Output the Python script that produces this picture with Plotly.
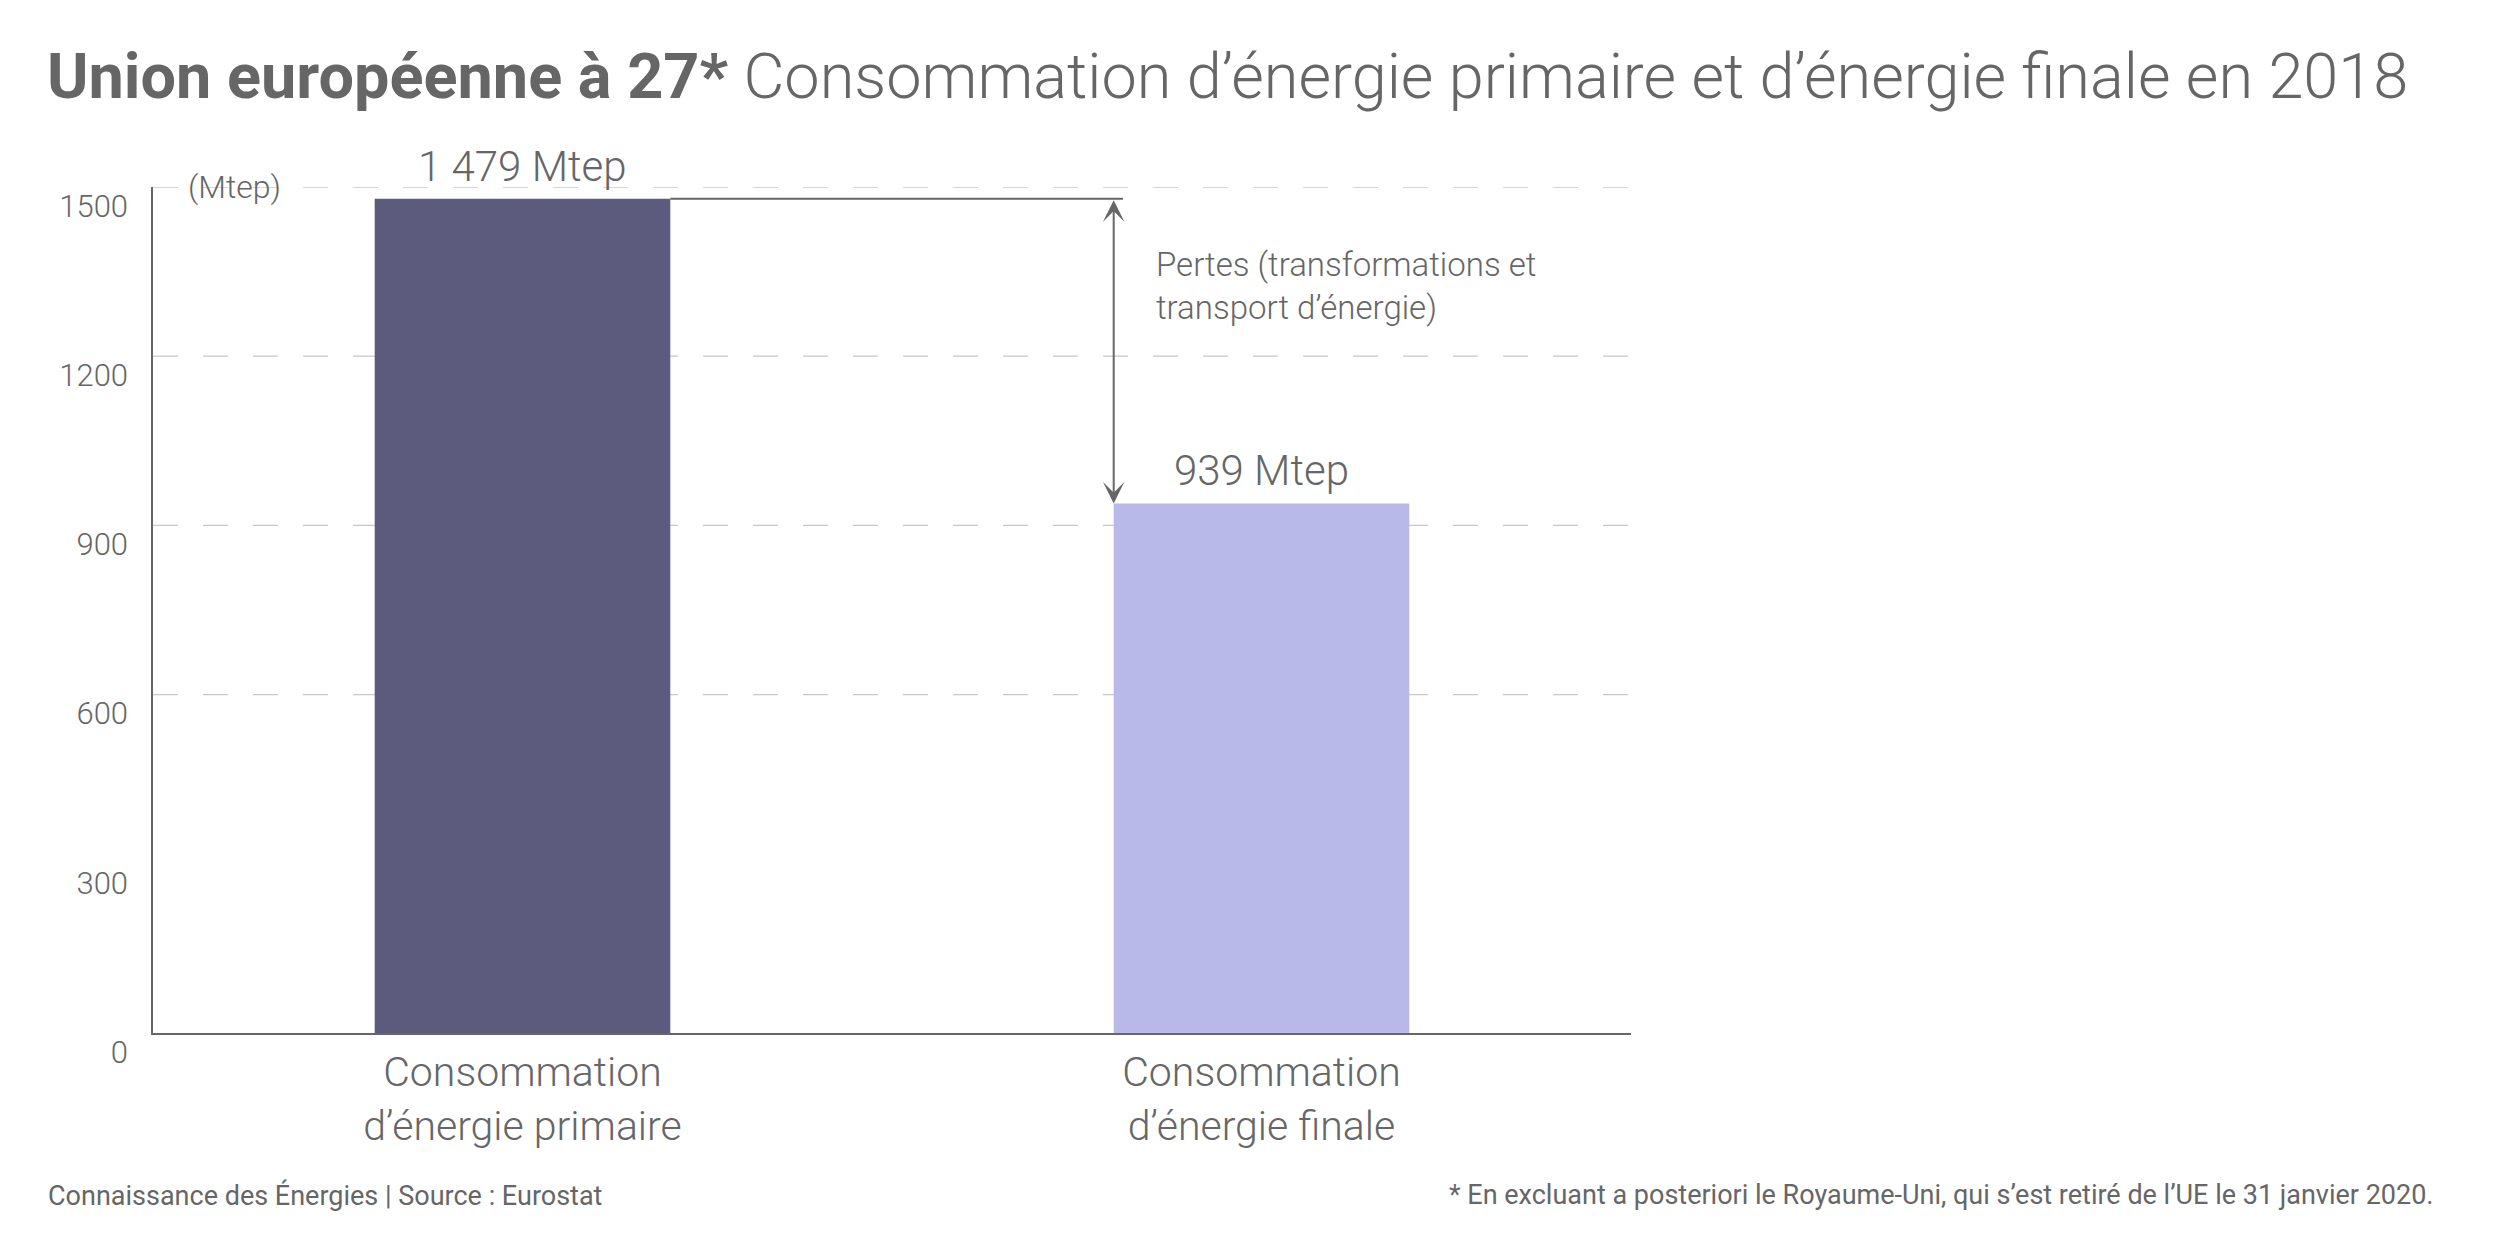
import plotly.graph_objects as go

# Data
categories = ["Consommation<br>d’énergie primaire", "Consommation<br>d’énergie finale"]
values = [1479, 939]
value_labels = ["1 479 Mtep", "939 Mtep"]
bar_colors = ["#5c5b7e", "#b8b9e8"]
y_ticks = [0, 300, 600, 900, 1200, 1500]
grid_lines = [600, 900, 1200, 1500]

title_bold = "Union européenne à 27*"
title_rest = "Consommation d’énergie primaire et d’énergie finale en 2018"
loss_text = "Pertes (transformations et<br>transport d’énergie)"
source_text = "Connaissance des Énergies | Source : Eurostat"
note_text = "* En excluant a posteriori le Royaume-Uni, qui s’est retiré de l’UE le 31 janvier 2020."

W, H = 2500, 1250
L, R, T, B = 153, 869, 187, 217
GREY = "#666666"
BAR_W = 0.4

fig = go.Figure()
fig.add_trace(go.Bar(x=categories, y=values, width=BAR_W,
                     marker=dict(color=bar_colors, line=dict(width=0)),
                     hoverinfo="skip"))

# dashed grid lines (no line at 300 in the original)
for g in grid_lines:
    fig.add_shape(type="line", xref="paper", yref="y", x0=0, x1=1, y0=g, y1=g,
                  line=dict(color="#c8c8c8", width=1.3, dash="25px,25px"), layer="below")

# value labels above the bars
for i, (v, lab) in enumerate(zip(values, value_labels)):
    fig.add_annotation(x=i, y=v, text=lab, showarrow=False, yanchor="bottom",
                       yshift=6, font=dict(family="Roboto", size=42, color=GREY, weight=300))

# losses bracket: horizontal line + double arrow
fig.add_shape(type="line", xref="x", yref="y",
              x0=BAR_W / 2, x1=1 - BAR_W / 2 + 0.0125, y0=values[0], y1=values[0],
              line=dict(color=GREY, width=2))
fig.add_annotation(x=1 - BAR_W / 2, y=values[1], ax=1 - BAR_W / 2, ay=values[0],
                   xref="x", yref="y", axref="x", ayref="y", text="",
                   showarrow=True, arrowside="end+start", arrowhead=3, startarrowhead=3,
                   arrowsize=1.8, startarrowsize=1.8, arrowwidth=2, arrowcolor=GREY,
                   standoff=0, startstandoff=0)
fig.add_annotation(x=0.855, y=1325, xref="x", yref="y", text=loss_text, showarrow=False,
                   xanchor="left", yanchor="middle", align="left",
                   font=dict(family="Roboto", size=33, color=GREY, weight=300))

# unit label
fig.add_annotation(x=(186 - L) / (W - L - R), y=1500, xref="paper", yref="y", text="(Mtep)",
                   showarrow=False, xanchor="left", yanchor="middle",
                   font=dict(family="Roboto", size=32, color=GREY, weight=300))

# footer texts
pw, ph = W - L - R, H - T - B
fig.add_annotation(x=(46 - L) / pw, y=(H - B - 1195) / ph, xref="paper", yref="paper",
                   text=source_text, showarrow=False, xanchor="left", yanchor="middle",
                   font=dict(family="Roboto", size=27, color=GREY))
fig.add_annotation(x=(2435 - L) / pw, y=(H - B - 1195) / ph, xref="paper", yref="paper",
                   text=note_text, showarrow=False, xanchor="right", yanchor="middle",
                   font=dict(family="Roboto", size=27, color=GREY))

fig.update_layout(
    width=W, height=H,
    margin=dict(l=L, r=R, t=T, b=B, pad=0),
    paper_bgcolor="white", plot_bgcolor="white",
    showlegend=False,
    title=dict(text="<b>" + title_bold + "</b> " + title_rest,
               x=47 / W, xanchor="left", xref="container",
               y=1 - 76 / H, yanchor="middle", yref="container",
               font=dict(family="Roboto", size=63, color=GREY, weight=300)),
    xaxis=dict(range=[-0.5, 1.5], showgrid=False, zeroline=False,
               showline=True, linecolor=GREY, linewidth=2, ticks="",
               tickfont=dict(family="Roboto", size=41, color=GREY, weight=300),
               ticklabelstandoff=2),
    yaxis=dict(range=[0, 1500], tickvals=y_ticks, ticktext=[str(t) for t in y_ticks],
               showgrid=False, zeroline=False, showline=True, linecolor=GREY,
               linewidth=1.5, ticks="",
               tickfont=dict(family="Roboto", size=31, color=GREY, weight=300),
               ticklabelstandoff=17, ticklabelshift=19),
)

# page body has a default 8px margin; remove it so the figure sits at the top-left corner
fig.write_html("out.html", config={"displayModeBar": False},
               post_script="document.body.style.margin='0';")
